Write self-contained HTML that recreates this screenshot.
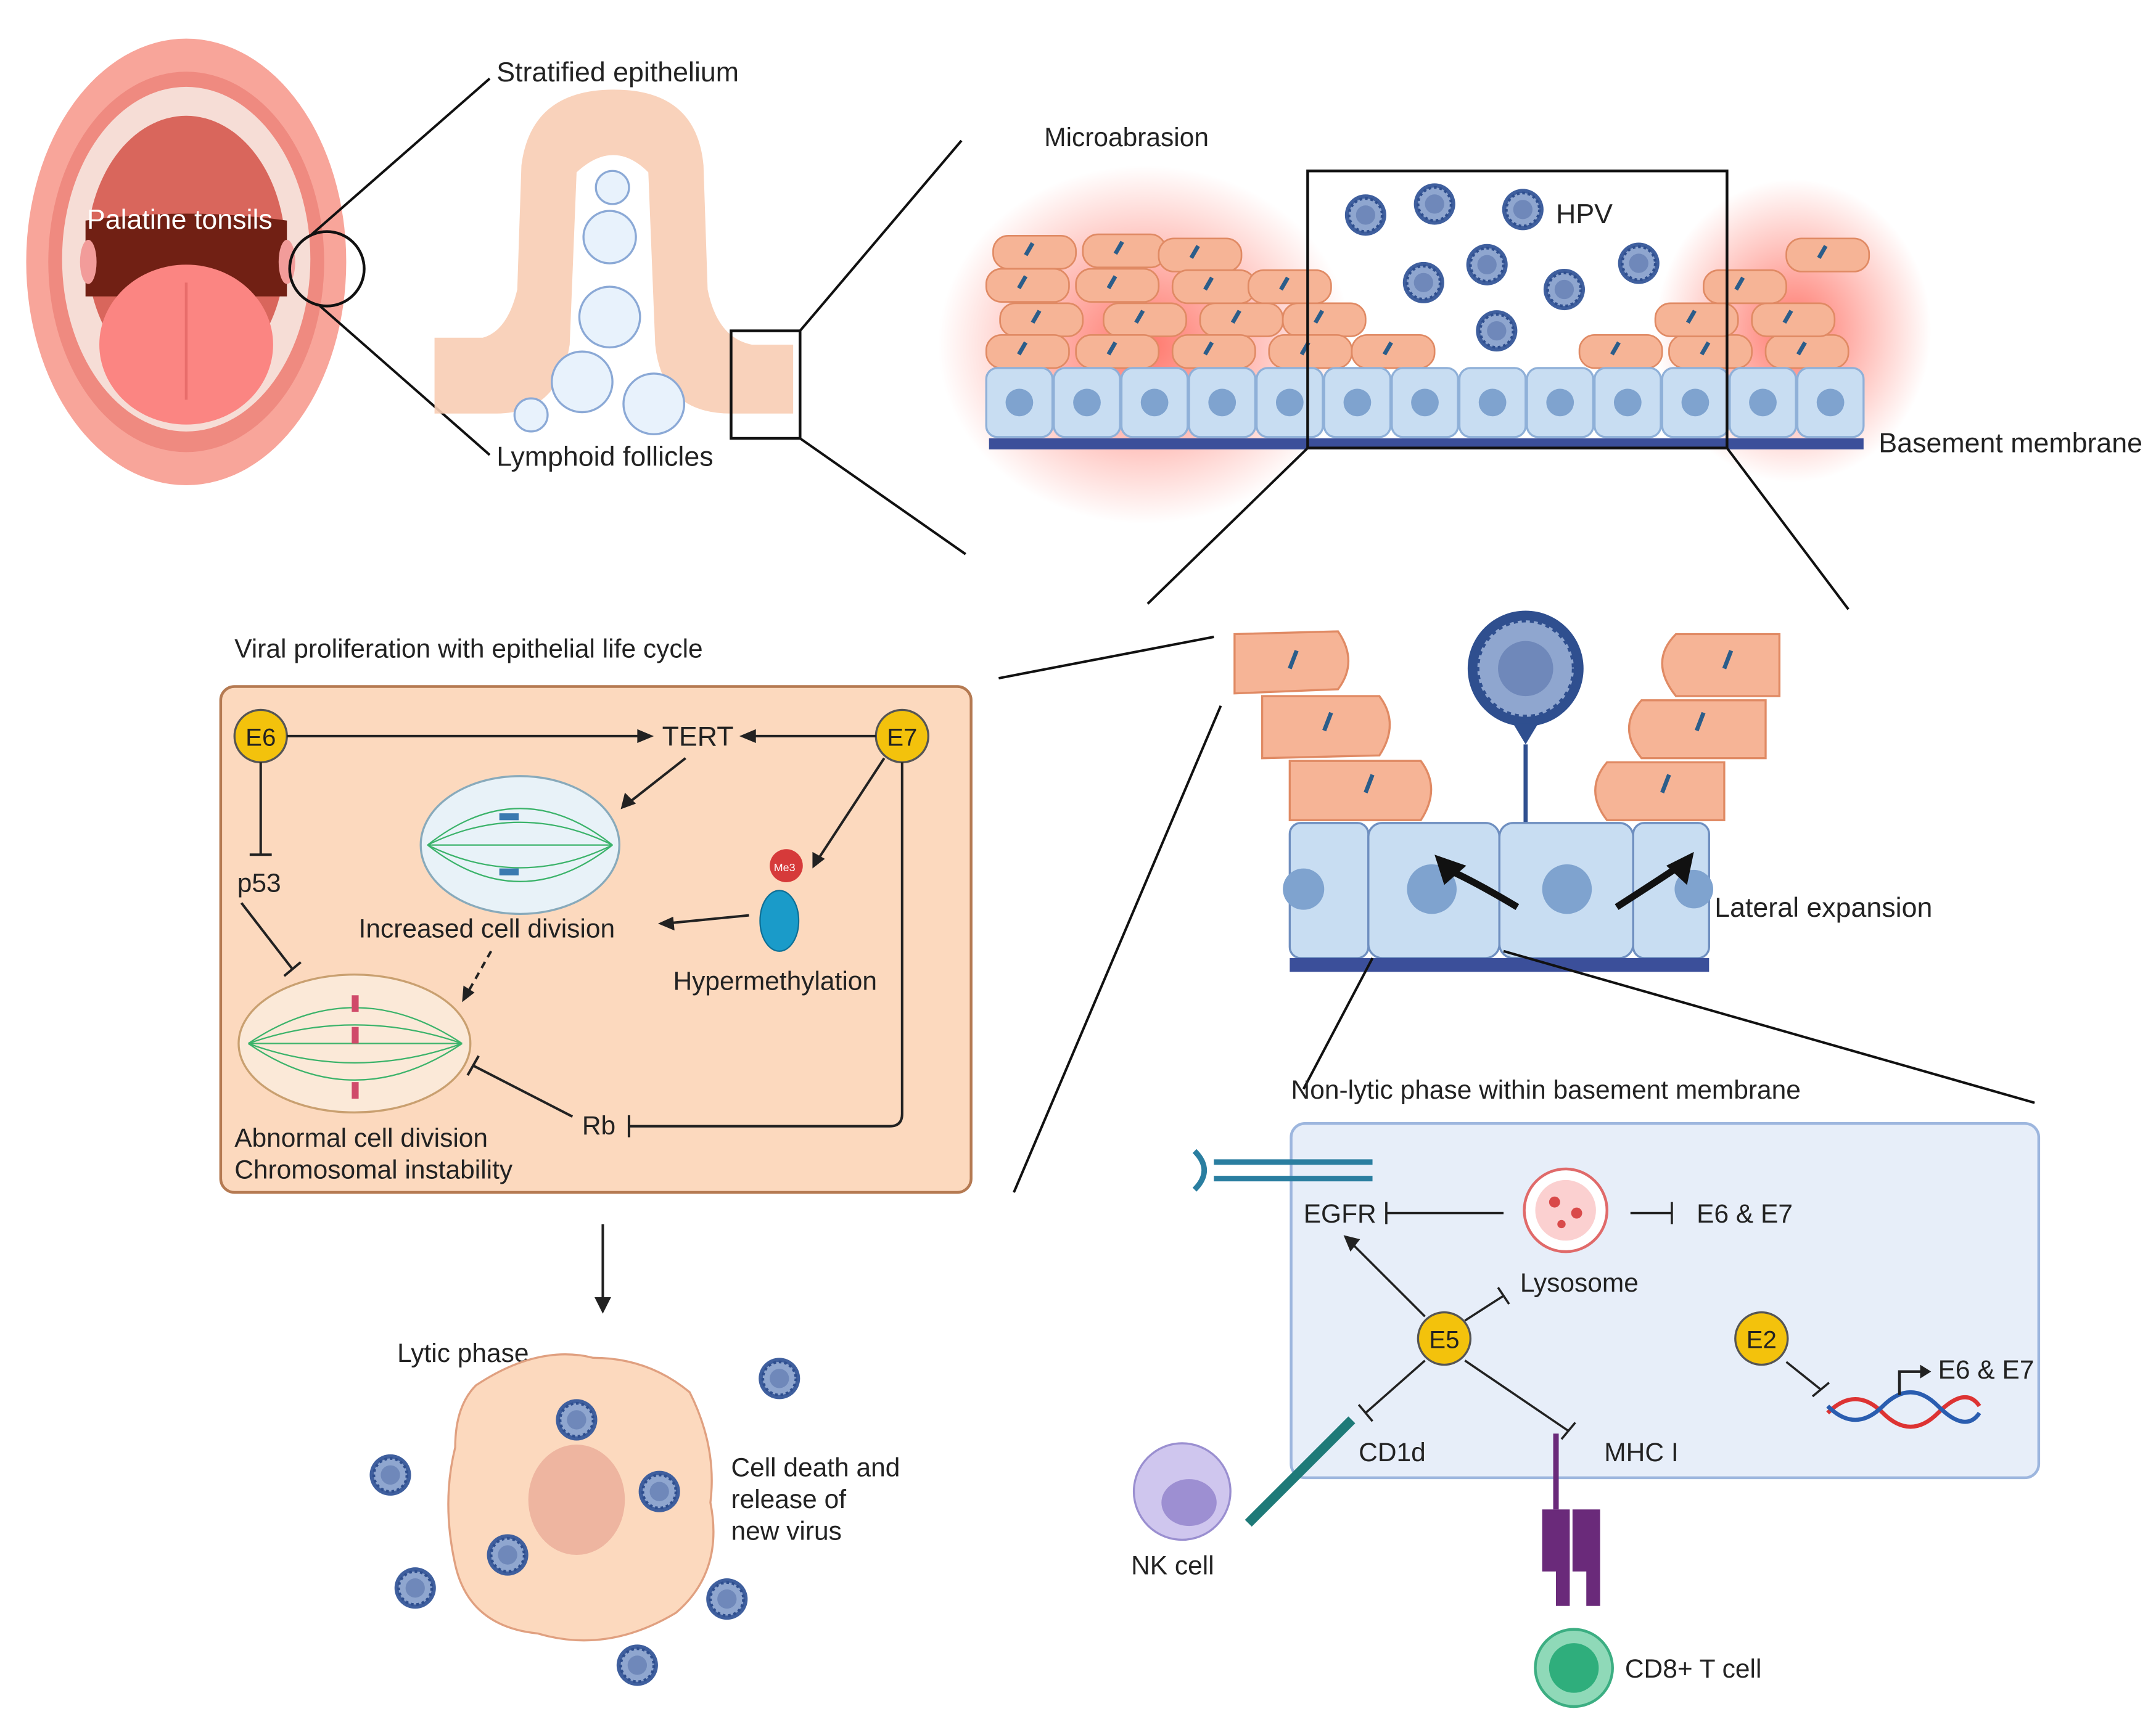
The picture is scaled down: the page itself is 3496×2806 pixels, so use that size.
<!DOCTYPE html>
<html><head><meta charset="utf-8"><style>
html,body{margin:0;padding:0;background:#fff}
svg{display:block}
text{font-family:"Liberation Sans",sans-serif;fill:#222}
</style></head><body>
<svg width="3496" height="2806" viewBox="0 0 1563 1255" preserveAspectRatio="none" xmlns="http://www.w3.org/2000/svg">
<defs>
<radialGradient id="glow" cx="50%" cy="50%" r="50%"><stop offset="0" stop-color="#ff4a3a" stop-opacity=".75"/><stop offset="1" stop-color="#ff4a3a" stop-opacity="0"/></radialGradient>
<g id="hpv"><circle r="15" fill="#3f5f9e"/><circle r="12" fill="#8fa6cf" stroke="#2f4f8f" stroke-width="2" stroke-dasharray="2 2"/><circle r="7" fill="#6f88ba"/></g>
<g id="cellb"><rect x="-24" y="-25" width="48" height="50" rx="8" fill="#c8ddf2" stroke="#8fb0d8" stroke-width="1.5"/><circle r="10" fill="#7fa3cf"/></g>
<g id="sq"><rect x="-30" y="-12" width="60" height="24" rx="11" fill="#f6b496" stroke="#e08a64" stroke-width="1.2"/><rect x="-6" y="-5" width="3" height="10" fill="#2b5d8a" transform="rotate(30)"/></g>
</defs>

<!-- Mouth -->
<ellipse cx="135" cy="190" rx="116" ry="162" fill="#f8a59a"/>
<ellipse cx="135" cy="190" rx="100" ry="138" fill="#ef8a80"/>
<ellipse cx="135" cy="188" rx="90" ry="125" fill="#f6ddd6"/>
<ellipse cx="135" cy="182" rx="72" ry="98" fill="#d9665c"/>
<path d="M62 160 Q135 150 208 160 L208 215 L62 215 Z" fill="#712014"/>
<ellipse cx="135" cy="250" rx="63" ry="58" fill="#fb8582"/>
<path d="M135 205 L135 290" stroke="#e86d6b" stroke-width="2"/>
<ellipse cx="64" cy="190" rx="6" ry="16" fill="#f29c9a"/>
<ellipse cx="208" cy="190" rx="6" ry="16" fill="#f29c9a"/>
<circle cx="237" cy="195" r="27" fill="none" stroke="#111" stroke-width="2"/>
<text x="63" y="166" font-size="20" style="fill:#fff">Palatine tonsils</text>
<line x1="226" y1="170" x2="355" y2="57" stroke="#111" stroke-width="1.8"/>
<line x1="232" y1="222" x2="355" y2="330" stroke="#111" stroke-width="1.8"/>
<text x="360" y="59" font-size="20">Stratified epithelium</text>
<text x="360" y="338" font-size="20">Lymphoid follicles</text>

<!-- Tonsil crypt -->
<path d="M315 245 L350 245 Q368 240 375 210 L378 120 Q385 65 445 65 Q505 65 510 120 L513 210 Q520 245 545 250 L575 250 L575 300 L530 300 Q480 300 475 250 L470 125 Q445 100 418 125 L413 250 Q405 300 360 300 L315 300 Z" fill="#f8cdb4" opacity=".9"/>
<g fill="#e8f2fc" stroke="#8ba9d6" stroke-width="1.5">
<circle cx="444" cy="136" r="12"/><circle cx="442" cy="172" r="19"/><circle cx="442" cy="230" r="22"/><circle cx="422" cy="277" r="22"/><circle cx="474" cy="293" r="22"/><circle cx="385" cy="301" r="12"/></g>
<rect x="530" y="240" width="50" height="78" fill="none" stroke="#111" stroke-width="2"/>
<line x1="580" y1="240" x2="697" y2="102" stroke="#111" stroke-width="1.8"/>
<line x1="580" y1="318" x2="700" y2="402" stroke="#111" stroke-width="1.8"/>

<!-- Microabrasion panel -->
<text x="757" y="106" font-size="19">Microabrasion</text>
<ellipse cx="830" cy="250" rx="150" ry="130" fill="url(#glow)"/>
<ellipse cx="1300" cy="240" rx="100" ry="110" fill="url(#glow)"/>
<g>
<use href="#sq" x="750" y="183"/><use href="#sq" x="815" y="182"/><use href="#sq" x="870" y="185"/>
<use href="#sq" x="745" y="207"/><use href="#sq" x="810" y="207"/><use href="#sq" x="880" y="208"/><use href="#sq" x="935" y="208"/>
<use href="#sq" x="755" y="232"/><use href="#sq" x="830" y="232"/><use href="#sq" x="900" y="232"/><use href="#sq" x="960" y="232"/>
<use href="#sq" x="745" y="255"/><use href="#sq" x="810" y="255"/><use href="#sq" x="880" y="255"/><use href="#sq" x="950" y="255"/><use href="#sq" x="1010" y="255"/>
<use href="#sq" x="1175" y="255"/><use href="#sq" x="1240" y="255"/><use href="#sq" x="1310" y="255"/>
<use href="#sq" x="1230" y="232"/><use href="#sq" x="1300" y="232"/>
<use href="#sq" x="1265" y="208"/><use href="#sq" x="1325" y="185"/>
</g>
<g>
<use href="#cellb" x="739" y="292"/><use href="#cellb" x="788" y="292"/><use href="#cellb" x="837" y="292"/><use href="#cellb" x="886" y="292"/><use href="#cellb" x="935" y="292"/><use href="#cellb" x="984" y="292"/><use href="#cellb" x="1033" y="292"/><use href="#cellb" x="1082" y="292"/><use href="#cellb" x="1131" y="292"/><use href="#cellb" x="1180" y="292"/><use href="#cellb" x="1229" y="292"/><use href="#cellb" x="1278" y="292"/><use href="#cellb" x="1327" y="292"/>
</g>
<rect x="717" y="318" width="634" height="8" fill="#3b4f9a"/>
<text x="1362" y="328" font-size="20">Basement membrane</text>
<rect x="948" y="124" width="304" height="201" fill="none" stroke="#111" stroke-width="2"/>
<use href="#hpv" x="990" y="156"/><use href="#hpv" x="1040" y="148"/><use href="#hpv" x="1104" y="152"/>
<use href="#hpv" x="1078" y="192"/><use href="#hpv" x="1032" y="205"/><use href="#hpv" x="1134" y="210"/><use href="#hpv" x="1188" y="191"/><use href="#hpv" x="1085" y="240"/>
<text x="1128" y="162" font-size="20">HPV</text>
<line x1="948" y1="325" x2="832" y2="438" stroke="#111" stroke-width="1.8"/>
<line x1="1252" y1="325" x2="1340" y2="442" stroke="#111" stroke-width="1.8"/>

<!-- Lateral expansion -->
<line x1="724" y1="492" x2="880" y2="462" stroke="#111" stroke-width="1.8"/>
<line x1="735" y1="865" x2="885" y2="512" stroke="#111" stroke-width="1.8"/>
<g fill="#f6b496" stroke="#e08a64" stroke-width="1.5">
<path d="M895 460 L970 458 Q985 480 970 500 L895 503 Z"/>
<path d="M915 505 L1000 505 Q1015 525 1000 548 L915 550 Z"/>
<path d="M935 552 L1030 552 Q1045 572 1030 595 L935 595 Z"/>
<path d="M1290 460 L1215 460 Q1195 480 1215 505 L1290 505 Z"/>
<path d="M1280 508 L1190 508 Q1172 528 1190 550 L1280 550 Z"/>
<path d="M1250 553 L1165 553 Q1148 573 1165 595 L1250 595 Z"/>
</g>
<g stroke="#2b5d8a" stroke-width="3"><line x1="935" y1="485" x2="940" y2="472"/><line x1="960" y1="530" x2="965" y2="517"/><line x1="990" y1="575" x2="995" y2="562"/><line x1="1250" y1="485" x2="1255" y2="472"/><line x1="1230" y1="530" x2="1235" y2="517"/><line x1="1205" y1="575" x2="1210" y2="562"/></g>
<circle cx="1106" cy="485" r="42" fill="#2f4f8f"/>
<circle cx="1106" cy="485" r="35" fill="#8fa6cf" stroke="#2f4f8f" stroke-width="3" stroke-dasharray="3 3"/>
<circle cx="1106" cy="485" r="20" fill="#6f88ba"/>
<path d="M1097 525 L1115 525 L1106 540 Z" fill="#2f4f8f"/>
<line x1="1106" y1="540" x2="1106" y2="598" stroke="#2f4f8f" stroke-width="3"/>
<g fill="#c8ddf2" stroke="#6f8fc0" stroke-width="1.5">
<rect x="935" y="597" width="57" height="98" rx="8"/><rect x="992" y="597" width="95" height="98" rx="10"/><rect x="1087" y="597" width="97" height="98" rx="10"/><rect x="1184" y="597" width="55" height="98" rx="8"/></g>
<g fill="#7fa3cf"><circle cx="945" cy="645" r="15"/><circle cx="1038" cy="645" r="18"/><circle cx="1136" cy="645" r="18"/><circle cx="1228" cy="645" r="14"/></g>
<rect x="935" y="695" width="304" height="10" fill="#3b4f9a"/>
<path d="M1100 658 Q1070 640 1048 630" fill="none" stroke="#111" stroke-width="5"/>
<path d="M1040 620 L1063 628 L1047 642 Z" fill="#111"/>
<path d="M1172 658 Q1200 640 1218 628" fill="none" stroke="#111" stroke-width="5"/>
<path d="M1228 618 L1223 642 L1208 628 Z" fill="#111"/>
<text x="1243" y="665" font-size="20">Lateral expansion</text>
<line x1="995" y1="695" x2="945" y2="790" stroke="#111" stroke-width="1.8"/>
<line x1="1090" y1="690" x2="1475" y2="800" stroke="#111" stroke-width="1.8"/>

<!-- Left box -->
<text x="170" y="477" font-size="19">Viral proliferation with epithelial life cycle</text>
<rect x="160" y="498" width="544" height="367" rx="10" fill="#fcd9be" stroke="#b57a52" stroke-width="2"/>
<circle cx="189" cy="534" r="19" fill="#f3c20c" stroke="#555" stroke-width="1.5"/><text x="178" y="541" font-size="18">E6</text>
<circle cx="654" cy="534" r="19" fill="#f3c20c" stroke="#555" stroke-width="1.5"/><text x="643" y="541" font-size="18">E7</text>
<text x="480" y="541" font-size="20">TERT</text>
<g stroke="#222" stroke-width="1.8" fill="none">
<line x1="208" y1="534" x2="470" y2="534"/><line x1="635" y1="534" x2="540" y2="534"/>
<line x1="497" y1="550" x2="455" y2="583"/>
<line x1="641" y1="550" x2="592" y2="625"/>
<line x1="543" y1="664" x2="482" y2="670"/>
<line x1="189" y1="553" x2="189" y2="620"/><line x1="181" y1="620" x2="197" y2="620"/>
<line x1="175" y1="655" x2="212" y2="703"/><line x1="206" y1="708" x2="218" y2="698"/>
<path d="M356 690 L338 722" stroke-dasharray="5 4"/>
<path d="M654 553 L654 808 Q654 817 645 817 L456 817"/><line x1="456" y1="809" x2="456" y2="825"/>
<line x1="415" y1="810" x2="343" y2="773"/><line x1="339" y1="780" x2="347" y2="766"/>
</g>
<g fill="#222"><path d="M474 534 L462 529 L462 539 Z"/><path d="M536 534 L548 529 L548 539 Z"/><path d="M450 587 L453 575 L461 583 Z"/><path d="M589 630 L589 618 L598 623 Z"/><path d="M477 670 L488 665 L489 675 Z"/><path d="M335 727 L336 715 L344 720 Z"/></g>
<text x="172" y="647" font-size="19">p53</text>
<text x="422" y="823" font-size="19">Rb</text>
<ellipse cx="377" cy="613" rx="72" ry="50" fill="#e8f2f8" stroke="#8ab" stroke-width="1.5"/>
<g stroke="#3bb36a" stroke-width="1" fill="none"><path d="M310 613 Q377 560 444 613"/><path d="M310 613 Q377 580 444 613"/><path d="M310 613 L444 613"/><path d="M310 613 Q377 646 444 613"/><path d="M310 613 Q377 666 444 613"/></g>
<g fill="#3a7ab0"><rect x="362" y="590" width="14" height="5"/><rect x="362" y="630" width="14" height="5"/></g>
<text x="260" y="680" font-size="19">Increased cell division</text>
<ellipse cx="257" cy="757" rx="84" ry="50" fill="#fbe9d8" stroke="#c9a070" stroke-width="1.5"/>
<g stroke="#3bb36a" stroke-width="1" fill="none"><path d="M180 757 Q257 705 335 757"/><path d="M180 757 Q257 730 335 757"/><path d="M180 757 L335 757"/><path d="M180 757 Q257 785 335 757"/><path d="M180 757 Q257 810 335 757"/></g>
<g fill="#d04a6a"><rect x="255" y="722" width="5" height="12"/><rect x="255" y="745" width="5" height="12"/><rect x="255" y="785" width="5" height="12"/></g>
<circle cx="570" cy="628" r="12" fill="#d63a3a"/><text x="561" y="632" font-size="8" style="fill:#fff">Me3</text>
<ellipse cx="565" cy="668" rx="14" ry="22" fill="#1a9bc9" stroke="#0d6f96"/>
<text x="488" y="718" font-size="19">Hypermethylation</text>
<text x="170" y="832" font-size="19">Abnormal cell division</text>
<text x="170" y="855" font-size="19">Chromosomal instability</text>

<!-- Lytic -->
<line x1="437" y1="888" x2="437" y2="945" stroke="#222" stroke-width="1.8"/>
<path d="M437 953 L431 941 L443 941 Z" fill="#222"/>
<text x="288" y="988" font-size="19">Lytic phase</text>
<path d="M345 1005 Q390 975 430 985 Q470 985 500 1010 Q520 1050 515 1090 Q525 1140 490 1170 Q440 1200 390 1185 Q340 1180 330 1135 Q320 1090 330 1050 Q330 1020 345 1005 Z" fill="#fcd9be" stroke="#e0a080" stroke-width="1.5"/>
<ellipse cx="418" cy="1088" rx="35" ry="40" fill="#eeb5a0"/>
<use href="#hpv" x="418" y="1030"/><use href="#hpv" x="478" y="1082"/><use href="#hpv" x="368" y="1128"/>
<use href="#hpv" x="565" y="1000"/><use href="#hpv" x="283" y="1070"/><use href="#hpv" x="301" y="1152"/><use href="#hpv" x="527" y="1160"/><use href="#hpv" x="462" y="1208"/>
<text x="530" y="1071" font-size="19">Cell death and</text>
<text x="530" y="1094" font-size="19">release of</text>
<text x="530" y="1117" font-size="19">new virus</text>

<!-- Right bottom box -->
<text x="936" y="797" font-size="19">Non-lytic phase within basement membrane</text>
<rect x="936" y="815" width="542" height="257" rx="10" fill="#e7eef9" stroke="#9db6de" stroke-width="2"/>
<g stroke="#222" stroke-width="1.6" fill="none">
<line x1="1005" y1="880" x2="1090" y2="880"/><line x1="1005" y1="872" x2="1005" y2="888"/>
<line x1="1182" y1="880" x2="1212" y2="880"/><line x1="1212" y1="872" x2="1212" y2="888"/>
<line x1="1033" y1="955" x2="978" y2="900"/>
<line x1="1062" y1="958" x2="1090" y2="940"/><line x1="1086" y1="934" x2="1094" y2="946"/>
<line x1="1033" y1="987" x2="990" y2="1025"/><line x1="985" y1="1019" x2="995" y2="1031"/>
<line x1="1062" y1="987" x2="1137" y2="1038"/><line x1="1132" y1="1044" x2="1142" y2="1032"/>
<line x1="1295" y1="988" x2="1320" y2="1008"/><line x1="1314" y1="1013" x2="1326" y2="1003"/>
</g>
<path d="M974 896 L986 899 L979 908 Z" fill="#222"/>
<g stroke="#2a7ea0" stroke-width="4" fill="none"><line x1="880" y1="843" x2="995" y2="843"/><line x1="880" y1="855" x2="995" y2="855"/><path d="M866 835 Q880 849 866 863"/></g>
<text x="945" y="887" font-size="19">EGFR</text>
<circle cx="1135" cy="878" r="30" fill="#fff" stroke="#e06a6a" stroke-width="2"/>
<circle cx="1135" cy="878" r="22" fill="#fbd0d0"/>
<g fill="#d94a4a"><circle cx="1127" cy="872" r="4"/><circle cx="1143" cy="880" r="4"/><circle cx="1132" cy="888" r="3"/></g>
<text x="1102" y="937" font-size="19">Lysosome</text>
<text x="1230" y="887" font-size="19">E6 &amp; E7</text>
<circle cx="1047" cy="971" r="19" fill="#f3c20c" stroke="#555" stroke-width="1.5"/><text x="1036" y="978" font-size="18">E5</text>
<circle cx="1277" cy="971" r="19" fill="#f3c20c" stroke="#555" stroke-width="1.5"/><text x="1266" y="978" font-size="18">E2</text>
<g fill="none" stroke-width="3"><path d="M1325 1025 Q1345 1005 1365 1025 T1405 1025 T1435 1020" stroke="#d33"/><path d="M1325 1020 Q1345 1040 1365 1020 T1405 1020 T1435 1025" stroke="#2a5db0"/></g>
<path d="M1377 1012 L1377 995 L1395 995" stroke="#222" stroke-width="2" fill="none"/><path d="M1400 995 L1392 990 L1392 1000 Z" fill="#222"/>
<text x="1405" y="1000" font-size="19">E6 &amp; E7</text>
<text x="985" y="1060" font-size="19">CD1d</text>
<text x="1163" y="1060" font-size="19">MHC I</text>
<circle cx="857" cy="1082" r="35" fill="#cfc6ee" stroke="#9a8fd0" stroke-width="1.5"/>
<ellipse cx="862" cy="1090" rx="20" ry="17" fill="#9d8fd2"/>
<path d="M905 1105 L980 1030" stroke="#1e7a78" stroke-width="7"/>
<text x="820" y="1142" font-size="19">NK cell</text>
<line x1="1128" y1="1040" x2="1128" y2="1095" stroke="#6a2a7a" stroke-width="4"/>
<path d="M1118 1095 L1138 1095 L1138 1165 L1128 1165 L1128 1140 L1118 1140 Z" fill="#6a2a7a"/>
<path d="M1140 1095 L1160 1095 L1160 1165 L1150 1165 L1150 1140 L1140 1140 Z" fill="#6a2a7a"/>
<circle cx="1141" cy="1210" r="28" fill="#8fd9b8" stroke="#3cae82" stroke-width="2"/>
<circle cx="1141" cy="1210" r="18" fill="#2fae7c"/>
<text x="1178" y="1217" font-size="19">CD8+ T cell</text>
</svg>
</body></html>
